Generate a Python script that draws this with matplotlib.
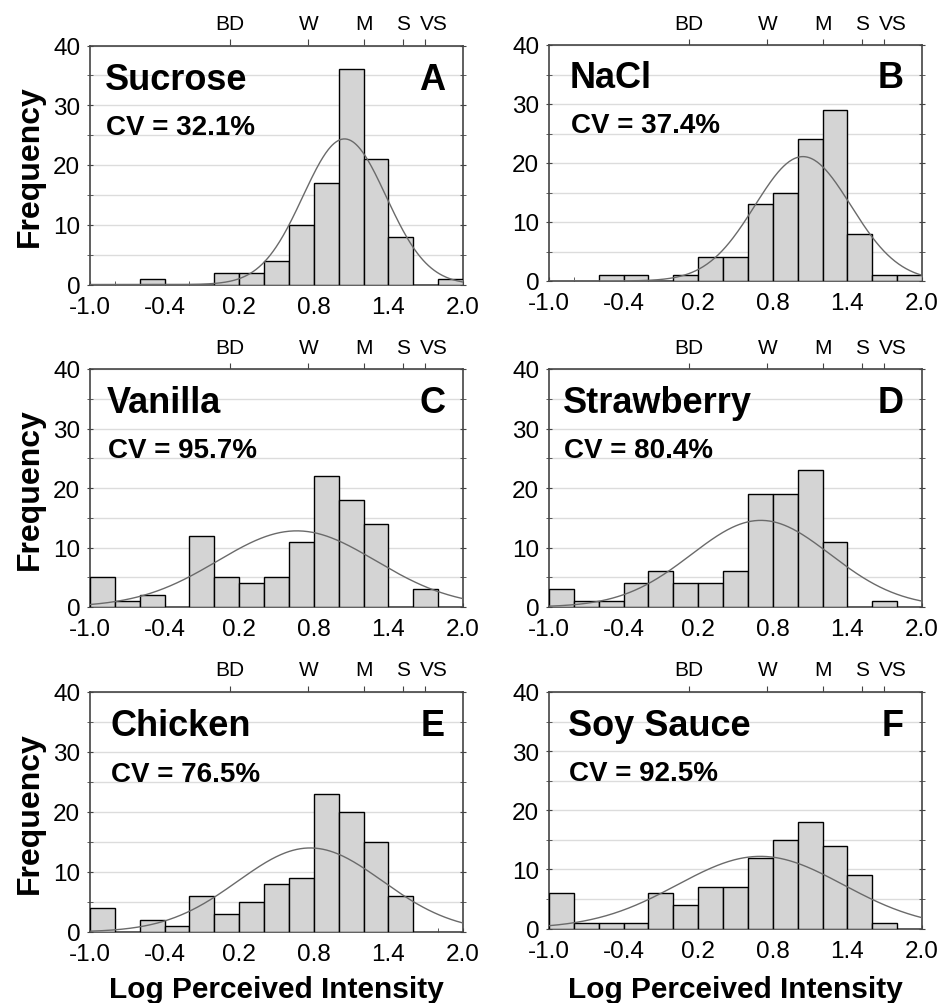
import numpy as np
import matplotlib
matplotlib.use("Agg")
import matplotlib.pyplot as plt
from matplotlib.ticker import MultipleLocator

plt.rcParams['font.family'] = ['Liberation Sans', 'DejaVu Sans']

# ---- data ----
bin_edges = [-1.0, -0.8, -0.6, -0.4, -0.2, 0.0, 0.2, 0.4, 0.6, 0.8, 1.0, 1.2, 1.4, 1.6, 1.8, 2.0]
bin_width = 0.2

sucrose_counts    = [0, 0, 1, 0, 0, 2, 2, 4, 10, 17, 36, 21, 8, 0, 1]
nacl_counts       = [0, 0, 1, 1, 0, 1, 4, 4, 13, 15, 24, 29, 8, 1, 1]
vanilla_counts    = [5, 1, 2, 0, 12, 5, 4, 5, 11, 22, 18, 14, 0, 3, 0]
strawberry_counts = [3, 1, 1, 4, 6, 4, 4, 6, 19, 19, 23, 11, 0, 1, 0]
chicken_counts    = [4, 0, 2, 1, 6, 3, 5, 8, 9, 23, 20, 15, 6, 0, 0]
soy_counts        = [6, 1, 1, 1, 6, 4, 7, 7, 12, 15, 18, 14, 9, 1, 0]

# fitted normal curves (mean, sd)
sucrose_fit    = (1.047, 0.334)
nacl_fit       = (1.042, 0.386)
vanilla_fit    = (0.663, 0.636)
strawberry_fit = (0.704, 0.559)
chicken_fit    = (0.771, 0.581)
soy_fit        = (0.700, 0.667)

names  = ['Sucrose', 'NaCl', 'Vanilla', 'Strawberry', 'Chicken', 'Soy Sauce']
letters = ['A', 'B', 'C', 'D', 'E', 'F']
cv_labels = ['CV = 32.1%', 'CV = 37.4%', 'CV = 95.7%', 'CV = 80.4%', 'CV = 76.5%', 'CV = 92.5%']

glms_labels = ['BD', 'W', 'M', 'S', 'VS']
glms_positions = [0.127, 0.757, 1.203, 1.514, 1.694]

x_tick_values = [-1.0, -0.4, 0.2, 0.8, 1.4, 2.0]
x_tick_labels = ['-1.0', '-0.4', '0.2', '0.8', '1.4', '2.0']
y_tick_values = [0, 10, 20, 30, 40]

all_counts = [sucrose_counts, nacl_counts, vanilla_counts, strawberry_counts, chicken_counts, soy_counts]
all_fits = [sucrose_fit, nacl_fit, vanilla_fit, strawberry_fit, chicken_fit, soy_fit]

# ---- layout ----
W, H = 941, 1004
fig = plt.figure(figsize=(W / 100, H / 100), dpi=100)

col_left = [90, 549]
ax_w = 373
ax_top = [46.5, 46, 370, 370, 693, 693]
ax_bot = [285.5, 282, 608, 608, 933, 929.5]
name_x = [0.040, 0.055, 0.045, 0.038, 0.054, 0.050]
label_offsets = [0, 0, 0, 0, 0.07]   # VS label sits right of its tick

for i in range(6):
    r, c = divmod(i, 2)
    left = col_left[c] / W
    bottom = 1 - ax_bot[i] / H
    height = (ax_bot[i] - ax_top[i]) / H
    ax = fig.add_axes([left, bottom, ax_w / W, height])

    counts = all_counts[i]
    lefts = [bin_edges[k] for k in range(len(counts)) if counts[k] > 0]
    heights = [counts[k] for k in range(len(counts)) if counts[k] > 0]
    ax.bar(lefts, heights, width=bin_width, align='edge', color='#d4d4d4',
           edgecolor='black', linewidth=1.0, zorder=3)

    mu, sd = all_fits[i]
    n = sum(counts)
    xs = np.linspace(-1.0, 2.0, 400)
    ys = n * bin_width / (sd * np.sqrt(2 * np.pi)) * np.exp(-0.5 * ((xs - mu) / sd) ** 2)
    ax.plot(xs, ys, color='#6a6a6a', linewidth=1.0, zorder=4)

    ax.set_xlim(-1.0, 2.0)
    ax.set_ylim(0, 40)
    ax.set_xticks(x_tick_values)
    ax.set_xticklabels(x_tick_labels)
    ax.xaxis.set_minor_locator(MultipleLocator(0.2))
    ax.set_yticks(y_tick_values)
    ax.yaxis.set_minor_locator(MultipleLocator(5))
    ax.grid(axis='y', which='both', color='#dcdcdc', linewidth=1.0, zorder=0)
    ax.set_axisbelow(True)
    ax.tick_params(axis='x', which='both', direction='in', length=3, labelsize=17.5,
                   pad=8, color='#444444')
    ax.tick_params(axis='y', which='both', direction='in', length=0, labelsize=17.5,
                   pad=5)
    ax.tick_params(axis='y', which='both', right=True, direction='inout', length=4,
                   color='#444444')
    for sp in ax.spines.values():
        sp.set_color('#444444')
        sp.set_linewidth(1.2)

    sec = ax.secondary_xaxis('top')
    sec.set_xticks(glms_positions)
    sec.set_xticklabels([''] * len(glms_positions))
    sec.tick_params(direction='out', length=4, color='#444444')
    sec.spines['top'].set_visible(False)
    for pos, lab, off in zip(glms_positions, glms_labels, label_offsets):
        ax.annotate(lab, xy=(pos + off, 1.0), xycoords=('data', 'axes fraction'),
                    xytext=(0, 9), textcoords='offset points', ha='center',
                    va='bottom', fontsize=15, annotation_clip=False)

    ax.text(name_x[i], 0.82, names[i], transform=ax.transAxes, fontsize=26,
            fontweight='bold', ha='left', va='baseline', zorder=6)
    ax.text(name_x[i] + 0.003, 0.63, cv_labels[i], transform=ax.transAxes, fontsize=20,
            fontweight='bold', ha='left', va='baseline', zorder=6)
    ax.text(0.952, 0.82, letters[i], transform=ax.transAxes, fontsize=26,
            fontweight='bold', ha='right', va='baseline', zorder=6)

    if c == 0:
        fig.text(30 / W, 1 - (ax_top[i] + ax_bot[i]) / 2 / H, 'Frequency', rotation=90,
                 fontsize=23, fontweight='bold', ha='center', va='center')
    if r == 2:
        fig.text((col_left[c] + ax_w / 2) / W, 1 - 998 / H, 'Log Perceived Intensity',
                 fontsize=21.5, fontweight='bold', ha='center', va='baseline')

fig.savefig('out.png', dpi=100)
